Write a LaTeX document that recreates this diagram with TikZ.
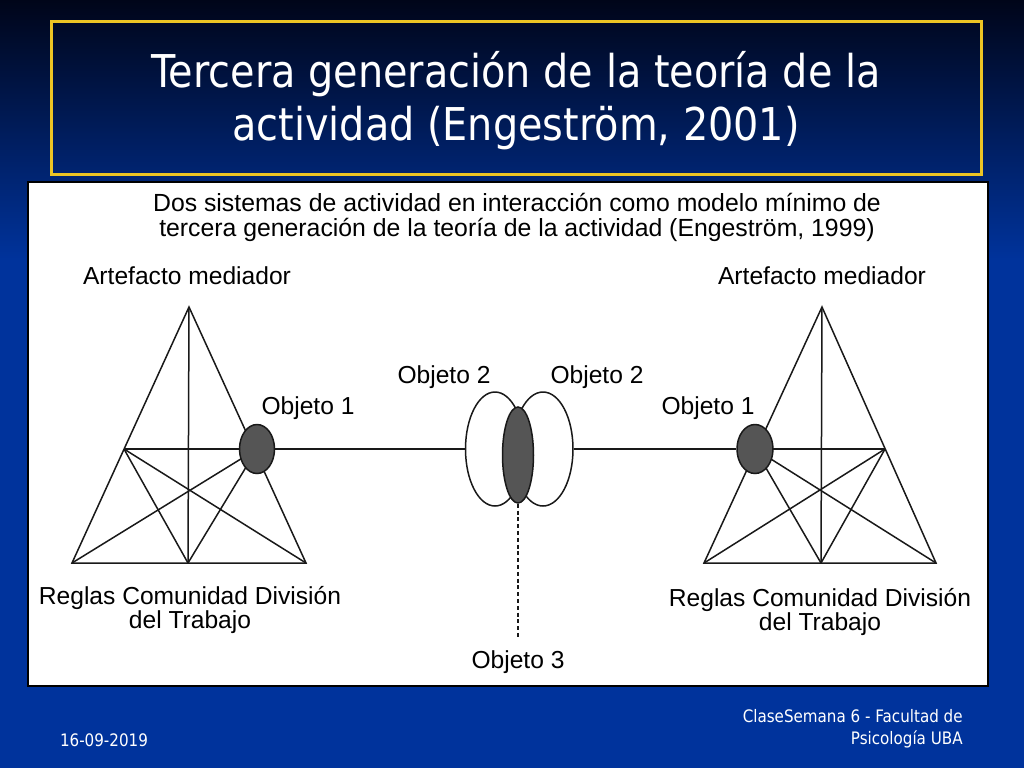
\documentclass[tikz,border=0pt]{standalone}
\usepackage{fontspec}
\usetikzlibrary{shapes.geometric}
\setmainfont{Liberation Sans}
\newfontfamily\slideFont[FakeStretch=0.88]{DejaVu Sans}
\definecolor{slideTop}{RGB}{0,5,25}
\definecolor{slideBlue}{RGB}{0,51,156}
\definecolor{titleYellow}{RGB}{236,196,36}
\definecolor{objectGray}{RGB}{85,85,85}

\begin{document}
\begin{tikzpicture}[x=0.5pt, y=-0.5pt,
	diagramLine/.style={line width=0.75pt, black!90},
	labelText/.style={font=\fontsize{12.3}{12}\selectfont, text=black, inner sep=0pt, align=center},
	objectShape/.style={ellipse, draw=black!90, line width=0.75pt, inner sep=0pt}]

% Slide background.

	\useasboundingbox (0,0) rectangle (1024,768);
	\fill[slideBlue] (0,0) rectangle (1024,768);
	\shade[top color=slideTop, bottom color=slideBlue] (0,0) rectangle (1024,260);

	\draw[titleYellow, line width=1.5pt] (51,21) rectangle (981,174);
	\filldraw[fill=white, draw=black, line width=0.7pt] (28,182) rectangle (988,686);

% Define coordinates.

	%left triangle
	\coordinate (apexL) at (189,307);
	\coordinate (baseLL) at (72,563);
	\coordinate (baseLM) at (188,563);
	\coordinate (baseLR) at (306,563);
	\coordinate (sideLL) at (124,449);
	\coordinate (c1L) at (257,449);

	%right triangle
	\coordinate (apexR) at (822,307);
	\coordinate (baseRL) at (704,563);
	\coordinate (baseRM) at (821,563);
	\coordinate (baseRR) at (936,563);
	\coordinate (sideRR) at (885,449);
	\coordinate (c1R) at (755,449);

	%shared object
	\coordinate (c2L) at (495,449);
	\coordinate (c2R) at (543,449);
	\coordinate (c3) at (518,455);
	\coordinate (dashEnd) at (518,638);

% Draw triangles.

	\draw[diagramLine] (apexL) -- (baseLL) -- (baseLR) -- cycle;
	\draw[diagramLine] (apexL) -- (baseLM);
	\draw[diagramLine] (sideLL) -- (c1L);
	\draw[diagramLine] (sideLL) -- (baseLM);
	\draw[diagramLine] (sideLL) -- (baseLR);
	\draw[diagramLine] (c1L) -- (baseLM);
	\draw[diagramLine] (c1L) -- (baseLL);

	\draw[diagramLine] (apexR) -- (baseRL) -- (baseRR) -- cycle;
	\draw[diagramLine] (apexR) -- (baseRM);
	\draw[diagramLine] (c1R) -- (sideRR);
	\draw[diagramLine] (sideRR) -- (baseRM);
	\draw[diagramLine] (sideRR) -- (baseRL);
	\draw[diagramLine] (c1R) -- (baseRM);
	\draw[diagramLine] (c1R) -- (baseRR);

% Draw objects.

	\node[objectShape, fill=objectGray, minimum width=17.5pt, minimum height=24.5pt] (obj1L) at (c1L) {};
	\node[objectShape, fill=objectGray, minimum width=18pt, minimum height=24.5pt] (obj1R) at (c1R) {};
	\node[objectShape, fill=white, minimum width=29.5pt, minimum height=57pt] (obj2L) at (c2L) {};
	\node[objectShape, fill=white, minimum width=30pt, minimum height=57pt] (obj2R) at (c2R) {};
	\node[objectShape, fill=objectGray, minimum width=15.5pt, minimum height=48pt] (obj3) at (c3) {};

	\draw[diagramLine] (obj1L) -- (obj2L);
	\draw[diagramLine] (obj2R) -- (obj1R);
	\draw[diagramLine, dash pattern=on 2pt off 1.4pt] (obj3.south) -- (dashEnd);

% Draw labels.

	\node[labelText] (artL) at (187,276) {Artefacto mediador};
	\node[labelText] (artR) at (822,276) {Artefacto mediador};
	\node[labelText] (lbl1L) at (308,408) {Objeto 1};
	\node[labelText] (lbl1R) at (708,408) {Objeto 1};
	\node[labelText] (lbl2L) at (444,377) {Objeto 2};
	\node[labelText] (lbl2R) at (597,377) {Objeto 2};
	\node[labelText] (lbl3) at (518,662) {Objeto 3};
	\node[labelText] (reglasL) at (190,610) {Reglas Comunidad División\\del Trabajo};
	\node[labelText] (reglasR) at (820,612) {Reglas Comunidad División\\del Trabajo};

	\node[labelText, font=\fontsize{12.4}{12.5}\selectfont] (heading) at (517,217)
		{Dos sistemas de actividad en interacción como modelo mínimo de\\tercera generación de la teoría de la actividad (Engeström, 1999)};

% Title and footer.

	\node[text=white, align=center, inner sep=0pt, font=\slideFont\fontsize{22.6}{26.5}\selectfont] (title) at (516,101)
		{Tercera generación de la teoría de la\\actividad (Engeström, 2001)};

	\node[text=white, inner sep=0pt, font=\slideFont\fontsize{8.6}{11}\selectfont] (date) at (104,740) {16-09-2019};
	\node[text=white, align=right, anchor=east, inner sep=0pt, font=\slideFont\fontsize{8.6}{11}\selectfont] (footer) at (963,729)
		{ClaseSemana 6 - Facultad de\\Psicología UBA};

\end{tikzpicture}
\end{document}
